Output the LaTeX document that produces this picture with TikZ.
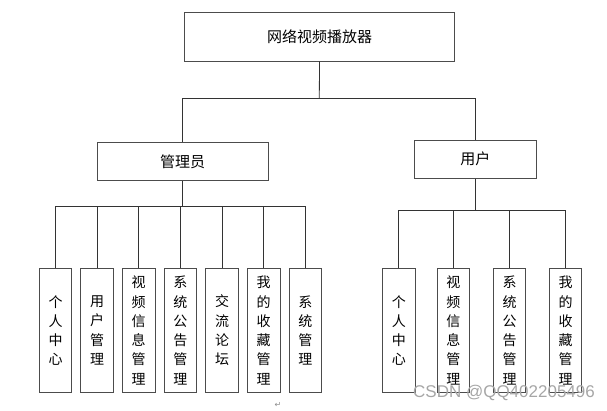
\documentclass[tikz,border=0pt]{standalone}
\usepackage{fontspec}
\newfontfamily\cjk{Noto Sans CJK SC}
\newfontfamily\wmfont{Liberation Sans}
\newfontfamily\symfont{DejaVu Sans}
\begin{document}
\begin{tikzpicture}[x=1pt,y=-1pt,
  box/.style={draw=black!70,line width=0.8pt,inner sep=0pt,fill=white},
  leaf/.style={box,minimum width=32.5pt,minimum height=124.4pt,align=center,
     font=\cjk\fontsize{14}{19.3}\selectfont},
  link/.style={draw=black!80,line width=0.8pt}]
\useasboundingbox (0,0) rectangle (607,410);
% top level
\node[box,minimum width=269.6pt,minimum height=49pt,font=\cjk\fontsize{15}{18}\selectfont] (top) at (319.5,36.5) {网络视频播放器};
\node[box,minimum width=171pt,minimum height=38pt,font=\cjk\fontsize{15}{18}\selectfont] (admin) at (182.5,161.7) {管理员};
\node[box,minimum width=122pt,minimum height=38.3pt,font=\cjk\fontsize{15}{18}\selectfont] (user) at (475.3,159.2) {用户};
\coordinate (bus0) at (319.3,98.7);
\coordinate (busA) at (182.5,206.7);
\coordinate (busU) at (475.3,210.7);
% admin leaves
\node[leaf] (a1) at (55.5,330.5) {个\\人\\中\\心};
\node[leaf] (a2) at (97,330.5) {用\\户\\管\\理};
\node[leaf] (a3) at (138.7,330.5) {视\\频\\信\\息\\管\\理};
\node[leaf] (a4) at (180.3,330.5) {系\\统\\公\\告\\管\\理};
\node[leaf] (a5) at (222,330.5) {交\\流\\论\\坛};
\node[leaf] (a6) at (263.7,330.5) {我\\的\\收\\藏\\管\\理};
\node[leaf] (a7) at (305.3,330.5) {系\\统\\管\\理};
% user leaves
\node[leaf] (u1) at (398.8,330.5) {个\\人\\中\\心};
\node[leaf] (u2) at (453.3,330.5) {视\\频\\信\\息\\管\\理};
\node[leaf] (u3) at (509.5,330.5) {系\\统\\公\\告\\管\\理};
\node[leaf] (u4) at (565.5,330.5) {我\\的\\收\\藏\\管\\理};
% connectors
\draw[link] (top.south) -- (bus0);
\draw[link] (bus0) -| (admin.north);
\draw[link] (bus0) -| (user.north);
\draw[link] (admin.south) -- (busA);
\foreach \n in {a1,a2,a3,a4,a5,a6,a7}{\draw[link] (busA) -| (\n.north);}
\draw[link] (user.south) -- (busU);
\foreach \n in {u1,u2,u3,u4}{\draw[link] (busU) -| (\n.north);}
% marks
\node[text=black!45,font=\symfont\fontsize{8}{8}\selectfont] (pm) at (278,405) {↵};
\node[text=black!35,font=\wmfont\fontsize{17}{17}\selectfont,anchor=center] (wm) at (504,392.5) {CSDN @QQ402205496};
\end{tikzpicture}
\end{document}
